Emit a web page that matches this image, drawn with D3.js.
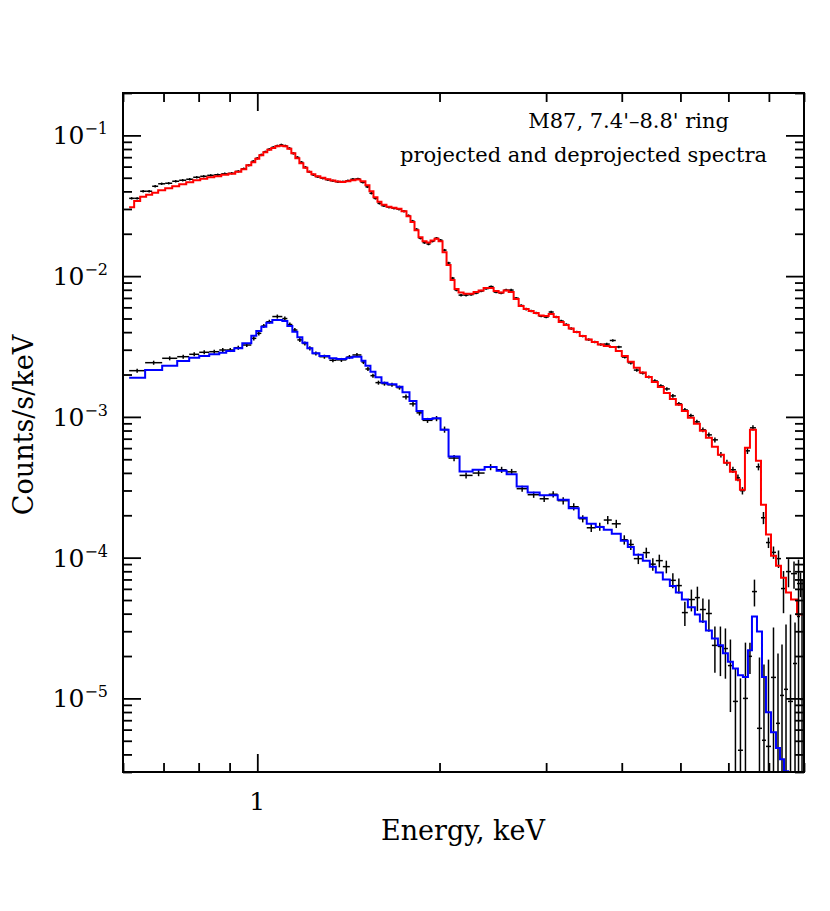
<!DOCTYPE html>
<html>
<head>
<meta charset="utf-8">
<script src="https://cdn.jsdelivr.net/npm/d3@7"></script>
<style>
  body { margin: 0; background: #fff; }
  text { font-family: "DejaVu Serif", serif; fill: #000; }
</style>
</head>
<body>
<div id="chart"></div>
<script>
// axis ranges and ticks
const xDomain = [0.6, 8];
const yDomain = [3e-6, 0.2];
const xMajor = [1];
const xMajorLabels = ["1"];
const yMajor = [1e-1, 1e-2, 1e-3, 1e-4, 1e-5];
const yMajorExp = ["\u22121", "\u22122", "\u22123", "\u22124", "\u22125"];

// projected spectrum (red model), bin edges in keV
const redEdges = [
  0.6142, 0.6260, 0.6405, 0.6552, 0.6704, 0.6859, 0.7044, 0.7235, 0.7430, 0.7631,
  0.7837, 0.8049, 0.8266, 0.8489, 0.8719, 0.8954, 0.9196, 0.9409, 0.9590, 0.9774,
  0.9924, 1.0076, 1.0231, 1.0388, 1.0547, 1.0709, 1.0874, 1.1041, 1.1211, 1.1382,
  1.1557, 1.1735, 1.1915, 1.2097, 1.2284, 1.2472, 1.2711, 1.2956, 1.3205, 1.3459,
  1.3718, 1.3982, 1.4250, 1.4524, 1.4804, 1.5088, 1.5320, 1.5555, 1.5794, 1.6037,
  1.6345, 1.6659, 1.6979, 1.7306, 1.7638, 1.7908, 1.8184, 1.8463, 1.8747, 1.9035,
  1.9327, 1.9623, 1.9925, 2.0230, 2.0541, 2.0857, 2.1176, 2.1500, 2.1914, 2.2335,
  2.2765, 2.3203, 2.3650, 2.4104, 2.4569, 2.5040, 2.5521, 2.6013, 2.6512, 2.7023,
  2.7541, 2.8072, 2.8611, 2.9160, 2.9722, 3.0292, 3.0876, 3.1468, 3.2075, 3.2690,
  3.3318, 3.4090, 3.4879, 3.5684, 3.6510, 3.7352, 3.8217, 3.9099, 4.0004, 4.0927,
  4.1875, 4.2840, 4.3833, 4.4844, 4.5883, 4.6941, 4.8028, 4.9136, 5.0274, 5.1433,
  5.2625, 5.3838, 5.5085, 5.6355, 5.7661, 5.8990, 6.0357, 6.1749, 6.2700, 6.3903,
  6.5135, 6.6637, 6.7922, 6.9226, 7.0561, 7.1915, 7.3302, 7.4708, 7.6141, 7.7905, 8.0005
];
const redModel = [
  0.0309, 0.0342, 0.0366, 0.0378, 0.0391, 0.0407, 0.0421, 0.0435, 0.0449, 0.0464,
  0.0480, 0.0491, 0.0504, 0.0512, 0.0525, 0.0533, 0.0551, 0.0574, 0.0613, 0.0644,
  0.0681, 0.0722, 0.0758, 0.0789, 0.0815, 0.0836, 0.0845, 0.0836, 0.0802, 0.0745,
  0.0687, 0.0633, 0.0588, 0.0551, 0.0529, 0.0512, 0.0500, 0.0488, 0.0477, 0.0470,
  0.0466, 0.0472, 0.0480, 0.0485, 0.0472, 0.0442, 0.0401, 0.0363, 0.0338, 0.0321,
  0.0311, 0.0306, 0.0301, 0.0289, 0.0266, 0.0242, 0.0212, 0.0189, 0.0177, 0.0173,
  0.0179, 0.0184, 0.0177, 0.0148, 0.0120, 0.00937, 0.00809, 0.00764, 0.00751, 0.00751,
  0.00770, 0.00789, 0.00822, 0.00822, 0.00783, 0.00764, 0.00789, 0.00770, 0.00687, 0.00613,
  0.00583, 0.00565, 0.00547, 0.00525, 0.00520, 0.00538, 0.00512, 0.00472, 0.00449, 0.00424,
  0.00401, 0.00375, 0.00354, 0.00340, 0.00327, 0.00319, 0.00314, 0.00294, 0.00271, 0.00246,
  0.00223, 0.00207, 0.00192, 0.00177, 0.00163, 0.00148, 0.00134, 0.00122, 0.00110, 0.000984,
  0.000892, 0.000796, 0.000710, 0.000613, 0.000538, 0.000472, 0.000407, 0.000357, 0.000304, 0.000603,
  0.000809, 0.000487, 0.000238, 0.000146, 0.000103, 8.77e-5, 7.21e-5, 5.65e-5, 5.04e-5, 3.94e-5
];
const redData = [
  0.0357, 0.0357, 0.0401, 0.0401, 0.0435, 0.0453, 0.0457, 0.0472, 0.0480, 0.0488,
  0.0504, 0.0512, 0.0520, 0.0525, 0.0533, 0.0538, 0.0555, 0.0579, 0.0613, 0.0654,
  0.0687, 0.0727, 0.0764, 0.0796, 0.0822, 0.0842, 0.0856, 0.0842, 0.0809, 0.0745,
  0.0698, 0.0644, 0.0593, 0.0551, 0.0525, 0.0508, 0.0496, 0.0484, 0.0476, 0.0468,
  0.0468, 0.0476, 0.0488, 0.0491, 0.0464, 0.0431, 0.0388, 0.0357, 0.0329, 0.0316,
  0.0309, 0.0304, 0.0299, 0.0289, 0.0269, 0.0246, 0.0215, 0.0186, 0.0173, 0.0169,
  0.0177, 0.0186, 0.0180, 0.0153, 0.0124, 0.00968, 0.00796, 0.00733, 0.00733, 0.00739,
  0.00758, 0.00783, 0.00815, 0.00842, 0.00770, 0.00758, 0.00796, 0.00796, 0.00698, 0.00618,
  0.00583, 0.00565, 0.00547, 0.00520, 0.00512, 0.00556, 0.00512, 0.00480, 0.00453, 0.00424,
  0.00401, 0.00375, 0.00354, 0.00340, 0.00327, 0.00329, 0.00349, 0.00314, 0.00266, 0.00242,
  0.00215, 0.00205, 0.00192, 0.00180, 0.00166, 0.00158, 0.00141, 0.00124, 0.00112, 0.00102,
  0.000922, 0.000809, 0.000745, 0.000687, 0.000538, 0.000472, 0.000421, 0.000369, 0.000299, 0.000574,
  0.000836, 0.000442, 0.000192, 0.000128, 0.000109, 9.84e-5, 6.03e-5, 7.96e-5, 7.70e-5, 6.54e-5
];
const redErr = [
  7.1e-4, 7.1e-4, 8.0e-4, 8.0e-4, 8.7e-4, 9.1e-4, 9.1e-4, 9.4e-4, 9.6e-4, 9.8e-4,
  1.0e-3, 1.0e-3, 1.0e-3, 1.05e-3, 1.07e-3, 1.08e-3, 1.1e-3, 1.2e-3, 1.2e-3, 1.3e-3,
  1.4e-3, 1.5e-3, 1.5e-3, 1.6e-3, 1.6e-3, 1.7e-3, 1.7e-3, 1.7e-3, 1.6e-3, 1.5e-3,
  1.4e-3, 1.3e-3, 1.2e-3, 1.1e-3, 1.05e-3, 1.0e-3, 1.0e-3, 9.7e-4, 9.5e-4, 9.4e-4,
  9.4e-4, 9.5e-4, 9.8e-4, 9.8e-4, 9.3e-4, 8.6e-4, 7.8e-4, 7.1e-4, 6.6e-4, 6.3e-4,
  6.2e-4, 6.1e-4, 6.0e-4, 5.8e-4, 5.4e-4, 4.9e-4, 4.3e-4, 3.7e-4, 3.5e-4, 3.4e-4,
  3.5e-4, 3.7e-4, 3.6e-4, 3.1e-4, 2.5e-4, 1.9e-4, 1.6e-4, 1.5e-4, 1.5e-4, 1.5e-4,
  1.5e-4, 1.6e-4, 1.6e-4, 1.7e-4, 1.5e-4, 1.5e-4, 1.6e-4, 1.6e-4, 1.4e-4, 1.2e-4,
  1.2e-4, 1.1e-4, 1.1e-4, 1.0e-4, 1.0e-4, 1.1e-4, 1.0e-4, 9.6e-5, 9.1e-5, 8.5e-5,
  8.0e-5, 7.5e-5, 7.1e-5, 6.8e-5, 6.5e-5, 6.6e-5, 7.0e-5, 6.3e-5, 6.4e-5, 6.0e-5,
  5.4e-5, 5.3e-5, 5.0e-5, 4.9e-5, 4.6e-5, 4.6e-5, 4.2e-5, 3.8e-5, 3.6e-5, 3.4e-5,
  3.2e-5, 3.0e-5, 2.9e-5, 2.8e-5, 2.4e-5, 2.3e-5, 2.1e-5, 2.0e-5, 1.8e-5, 2.9e-5,
  3.5e-5, 2.5e-5, 1.9e-5, 1.1e-5, 1.1e-5, 1.4e-5, 2.0e-5, 1.8e-5, 1.7e-5, 1.3e-5
];

// deprojected spectrum (blue model)
const blueEdges = [
  0.6142, 0.6527, 0.6964, 0.7374, 0.7718, 0.8018, 0.8329, 0.8653, 0.8886, 0.9161,
  0.9445, 0.9774, 0.9962, 1.0154, 1.0349, 1.0588, 1.0999, 1.1211, 1.1426, 1.1646,
  1.1870, 1.2097, 1.2330, 1.2664, 1.3155, 1.3510, 1.4035, 1.4360, 1.4860, 1.5088,
  1.5378, 1.5674, 1.6037, 1.6407, 1.6979, 1.7372, 1.7840, 1.8322, 1.8747, 1.9475,
  2.0077, 2.0698, 2.1583, 2.2679, 2.3740, 2.4850, 2.5815, 2.6817, 2.7964, 2.9272,
  3.0292, 3.1348, 3.2690, 3.3960, 3.5011, 3.6232, 3.7352, 3.8507, 3.9850, 4.0927,
  4.1875, 4.3331, 4.4502, 4.5530, 4.6760, 4.8028, 4.9136, 5.0274, 5.1433, 5.2829,
  5.3838, 5.5085, 5.6355, 5.7661, 5.8771, 5.9898, 6.1049, 6.2226, 6.3422, 6.4642,
  6.5634, 6.6896, 6.8182, 6.9226, 7.0561, 7.1915, 7.3021, 7.4142, 7.5281, 7.6728,
  7.7905, 7.8801, 8.0005
];
const blueModel = [
  0.001900, 0.002154, 0.002311, 0.002495, 0.002633, 0.002708, 0.002784, 0.002858, 0.002938, 0.003070,
  0.003332, 0.003772, 0.004073, 0.004370, 0.004665, 0.004876, 0.004797, 0.004421, 0.004027, 0.003675,
  0.003364, 0.003070, 0.002830, 0.002708, 0.002608, 0.002578, 0.002633, 0.002677, 0.002507, 0.002311,
  0.002096, 0.001912, 0.001751, 0.001706, 0.001640, 0.001497, 0.001299, 0.001103, 0.000968, 0.000979,
  0.000809, 0.000523, 0.000409, 0.000421, 0.000440, 0.000414, 0.000392, 0.000320, 0.000290, 0.000277,
  0.000277, 0.000258, 0.000224, 0.000192, 0.000174, 0.000165, 0.000158, 0.000148, 0.000132, 0.000119,
  1.05e-4, 9.52e-5, 8.63e-5, 7.83e-5, 6.98e-5, 6.29e-5, 5.65e-5, 5.04e-5, 4.44e-5, 3.94e-5,
  3.52e-5, 3.04e-5, 2.66e-5, 2.39e-5, 2.09e-5, 1.82e-5, 1.63e-5, 1.46e-5, 1.42e-5, 2.20e-5,
  3.82e-5, 2.99e-5, 1.42e-5, 7.96e-6, 5.74e-6, 4.45e-6, 3.69e-6, 3.04e-6, 2.6e-6, 2.2e-6,
  1.9e-6, 1.6e-6
];
const blueData = [
  0.002130, 0.002427, 0.002608, 0.002677, 0.002784, 0.002877, 0.002905, 0.002987, 0.002987, 0.003101,
  0.003240, 0.003615, 0.003923, 0.004421, 0.004742, 0.005162, 0.004996, 0.004529, 0.004142, 0.003524,
  0.003321, 0.003070, 0.002821, 0.002677, 0.002524, 0.002540, 0.002664, 0.002754, 0.002455, 0.002190,
  0.001963, 0.001751, 0.001723, 0.001690, 0.001614, 0.001387, 0.001237, 0.001068, 0.000945, 0.000973,
  0.000813, 0.000510, 0.000384, 0.000399, 0.000440, 0.000421, 0.000407, 0.000309, 0.000280, 0.000262,
  0.000282, 0.000254, 0.000230, 0.000189, 0.000163, 0.000166, 0.000185, 0.000174, 0.000134, 0.000124,
  9.84e-5, 1.085e-4, 8.99e-5, 9.52e-5, 8.63e-5, 6.90e-5, 6.33e-5, 4.07e-5, 5.04e-5, 5.20e-5,
  4.28e-5, 4.01e-5, 2.38e-5, 2.34e-5, 2.26e-5, 1.71e-5, 9.52e-6, 4.28e-6, 1.00e-5, 1.99e-5,
  5.74e-5, 6.13e-6, 5.04e-6, 4.56e-6, 1.41e-5, 6.65e-6, 1.05e-5, 1.16e-5, 9.52e-6, 1.77e-5,
  3.82e-5, 9.84e-6
];
const blueErr = [
  7.1e-5, 8.1e-5, 8.7e-5, 8.9e-5, 9.2e-5, 9.6e-5, 9.6e-5, 9.9e-5, 9.9e-5, 1.03e-4,
  1.08e-4, 1.2e-4, 1.3e-4, 1.47e-4, 1.57e-4, 1.71e-4, 1.66e-4, 1.5e-4, 1.38e-4, 1.17e-4,
  1.1e-4, 1.02e-4, 9.4e-5, 8.9e-5, 8.4e-5, 8.4e-5, 8.8e-5, 9.1e-5, 8.2e-5, 7.3e-5,
  6.5e-5, 5.8e-5, 5.7e-5, 5.6e-5, 5.4e-5, 5.8e-5, 5.2e-5, 4.5e-5, 3.9e-5, 4.1e-5,
  4.1e-5, 2.6e-5, 1.9e-5, 2.0e-5, 2.2e-5, 2.1e-5, 2.0e-5, 1.55e-5, 1.4e-5, 1.3e-5,
  1.4e-5, 1.5e-5, 1.35e-5, 1.1e-5, 1.1e-5, 1.1e-5, 1.25e-5, 1.17e-5, 1.02e-5, 1.06e-5,
  8.4e-6, 9.2e-6, 9.3e-6, 9.8e-6, 8.9e-6, 8.4e-6, 7.7e-6, 8.0e-6, 8.9e-6, 1.02e-5,
  8.4e-6, 1.03e-5, 8.6e-6, 9.0e-6, 8.8e-6, 9.1e-6, 6.8e-6, 9.6e-6, 1.49e-5, 5.0e-6,
  1.24e-5, 1.34e-5, 1.24e-5, 1.43e-5, 1.78e-5, 1.42e-5, 1.37e-5, 2.19e-5, 2.99e-5, 1.69e-5,
  5.86e-5, 6.0e-5
];

const width = 830, height = 911;
const plot = { left: 123, right: 804, top: 93, bottom: 772 };

const svg = d3.select("#chart")
  .append("svg")
  .attr("width", width)
  .attr("height", height)
  .style("background", "#fff");

const x = d3.scaleLog().domain(xDomain).range([plot.left, plot.right]);
const y = d3.scaleLog().domain(yDomain).range([plot.bottom, plot.top]);

svg.append("clipPath").attr("id", "clip")
  .append("rect")
  .attr("x", plot.left).attr("y", plot.top)
  .attr("width", plot.right - plot.left)
  .attr("height", plot.bottom - plot.top);

const area = svg.append("g").attr("clip-path", "url(#clip)");

// spectrum: data crosses first, model histogram on top
function drawSpectrum(edges, data, err, model, color) {
  const bins = data.map((d, i) => ({
    lo: edges[i], hi: edges[i + 1], val: d, err: err[i], mod: model[i]
  }));
  const bottomVal = yDomain[0] * 0.5;

  const dg = area.append("g").attr("stroke", "#000").attr("stroke-width", 1.5);
  dg.append("g").selectAll("line")
    .data(bins)
    .join("line")
    .attr("x1", b => x(b.lo))
    .attr("x2", b => x(b.hi))
    .attr("y1", b => y(b.val))
    .attr("y2", b => y(b.val));
  dg.append("g").selectAll("line")
    .data(bins)
    .join("line")
    .attr("x1", b => x(Math.sqrt(b.lo * b.hi)))
    .attr("x2", b => x(Math.sqrt(b.lo * b.hi)))
    .attr("y1", b => y(Math.max(b.val - b.err, bottomVal)))
    .attr("y2", b => y(b.val + b.err));

  const pts = bins.map(b => [b.lo, b.mod]);
  pts.push([edges[edges.length - 1], model[model.length - 1]]);
  const line = d3.line()
    .x(d => x(d[0]))
    .y(d => y(Math.max(d[1], bottomVal)))
    .curve(d3.curveStepAfter);
  area.append("path")
    .datum(pts)
    .attr("fill", "none")
    .attr("stroke", color)
    .attr("stroke-width", 2)
    .attr("d", line);
}

drawSpectrum(redEdges, redData, redErr, redModel, "#ff0000");
drawSpectrum(blueEdges, blueData, blueErr, blueModel, "#0000ff");

// ticks on all four sides, pointing in
const isMajor = v => Math.abs(Math.log10(v) - Math.round(Math.log10(v))) < 1e-9;
const xMinor = x.ticks().filter(v => !isMajor(v));
const yMinor = y.ticks().filter(v => !isMajor(v));
const plotW = plot.right - plot.left, plotH = plot.bottom - plot.top;

function tickAxis(axis, tx, ty) {
  const g = svg.append("g").attr("transform", `translate(${tx},${ty})`).call(axis);
  g.select(".domain").remove();
  g.selectAll(".tick line").attr("stroke", "#000").attr("stroke-width", 1.8);
  g.selectAll(".tick text").remove();
}

tickAxis(d3.axisBottom(x).tickValues(xMinor).tickSize(-9), 0, plot.bottom);
tickAxis(d3.axisBottom(x).tickValues(xMajor).tickSize(-18), 0, plot.bottom);
tickAxis(d3.axisTop(x).tickValues(xMinor).tickSize(-9), 0, plot.top);
tickAxis(d3.axisTop(x).tickValues(xMajor).tickSize(-18), 0, plot.top);
tickAxis(d3.axisLeft(y).tickValues(yMinor).tickSize(-9), plot.left, 0);
tickAxis(d3.axisLeft(y).tickValues(yMajor).tickSize(-18), plot.left, 0);
tickAxis(d3.axisRight(y).tickValues(yMinor).tickSize(-9), plot.right, 0);
tickAxis(d3.axisRight(y).tickValues(yMajor).tickSize(-18), plot.right, 0);

// frame
svg.append("rect")
  .attr("x", plot.left).attr("y", plot.top)
  .attr("width", plotW).attr("height", plotH)
  .attr("fill", "none")
  .attr("stroke", "#000")
  .attr("stroke-width", 2);

// tick labels
svg.append("g").selectAll("text")
  .data(xMajor)
  .join("text")
  .attr("x", d => x(d))
  .attr("y", plot.bottom + 38)
  .attr("text-anchor", "middle")
  .attr("font-size", 25)
  .text((d, i) => xMajorLabels[i]);

const yl = svg.append("g").selectAll("text")
  .data(yMajor)
  .join("text")
  .attr("x", plot.left - 15)
  .attr("y", d => y(d) + 9)
  .attr("text-anchor", "end")
  .attr("font-size", 25);
yl.append("tspan").text("10");
yl.append("tspan")
  .attr("dy", -10)
  .attr("font-size", 16)
  .text((d, i) => yMajorExp[i]);

// axis titles
svg.append("text")
  .attr("x", 463)
  .attr("y", 840)
  .attr("text-anchor", "middle")
  .attr("font-size", 27)
  .text("Energy, keV");

svg.append("text")
  .attr("transform", "translate(33,425) rotate(-90)")
  .attr("text-anchor", "middle")
  .attr("font-size", 27)
  .text("Counts/s/keV");

// annotation
svg.append("text")
  .attr("x", 729)
  .attr("y", 128)
  .attr("text-anchor", "end")
  .attr("font-size", 21)
  .text("M87, 7.4'\u20138.8' ring");

svg.append("text")
  .attr("x", 767)
  .attr("y", 162)
  .attr("text-anchor", "end")
  .attr("font-size", 21)
  .text("projected and deprojected spectra");
</script>
</body>
</html>
